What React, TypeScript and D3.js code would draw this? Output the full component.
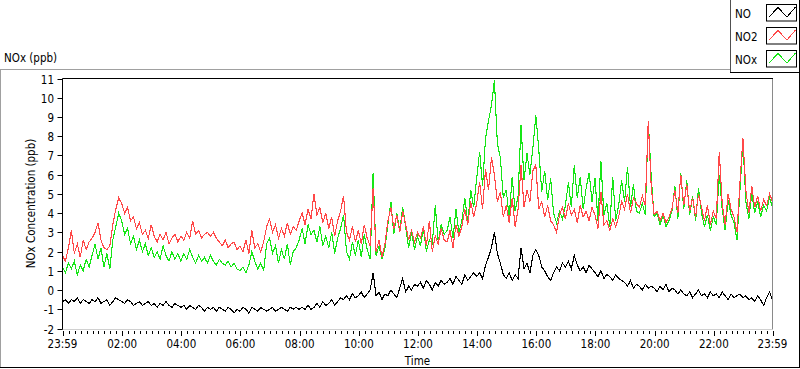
import * as d3 from "d3";

const W = 800;
const H = 369;
// plot box (pixel centres for crisp 1px lines)
const plot = { left: 62.5, top: 78.5, right: 772.5, bottom: 328.5 };

const FONT = "'DejaVu Sans Condensed', 'Liberation Sans', sans-serif";

// one sample every 6 minutes, from 23:59 to 23:59 next day
const startTime = new Date(2024, 0, 1, 23, 59);
const endTime = new Date(2024, 0, 2, 23, 59);
const stepMinutes = 6;

const seriesNames = ["NO", "NO2", "NOx"];
const seriesColors = ["#000000", "#ff4848", "#16e616"];

const no = [
  -0.6, -0.5, -0.7, -0.5, -0.6, -0.4, -0.7, -0.5, -0.6, -0.7,
  -0.5, -0.6, -0.4, -0.7, -0.6, -0.5, -0.8, -0.6, -0.4, -0.5,
  -0.6, -0.7, -0.5, -0.6, -0.8, -0.7, -0.6, -0.8, -0.7, -0.6,
  -0.8, -0.7, -0.9, -0.7, -0.8, -0.6, -0.8, -0.9, -0.7, -0.8,
  -0.9, -0.8, -1.0, -0.8, -0.9, -1.0, -0.8, -0.9, -1.1, -0.9,
  -1.0, -0.9, -1.1, -0.9, -1.0, -1.1, -0.9, -1.0, -1.2, -1.0,
  -1.1, -0.9, -1.0, -1.2, -0.9, -1.0, -1.1, -0.9, -1.0, -1.1,
  -1.0, -0.9, -1.1, -1.0, -0.9, -1.0, -1.1, -0.9, -1.0, -0.9,
  -1.0, -0.9, -1.0, -0.8, -1.0, -0.9, -0.7, -0.9, -0.6, -0.8,
  -0.7, -0.5, -0.8, -0.6, -0.4, -0.5, -0.3, -0.5, -0.2, -0.4,
  -0.3, -0.1, -0.4, -0.2, 0.0, 0.9, -0.3, -0.1, -0.5, -0.2,
  -0.3, 0.0, -0.2, -0.4, 0.1, 0.6, -0.1, 0.2, 0.0, 0.3,
  0.2, 0.4, 0.1, 0.5, 0.3, 0.0, 0.4, 0.2, 0.5, 0.3,
  0.4, 0.6, 0.3, 0.7, 0.5, 0.3, 0.8, 0.5, 0.7, 0.9,
  0.7, 0.9, 0.6, 1.3, 1.7, 2.2, 3.0, 1.9, 1.4, 0.8,
  0.6, 0.9, 0.5, 0.8, 0.6, 2.2, 1.1, 1.4, 0.9, 1.8,
  2.1, 1.8, 1.2, 1.0, 0.7, 0.5, 0.9, 1.2, 1.0, 1.4,
  1.2, 1.5, 1.1, 1.8, 1.3, 1.0, 1.2, 0.9, 1.3, 1.1,
  0.9, 0.7, 1.0, 0.6, 0.8, 0.7, 0.5, 0.8, 0.6, 0.5,
  0.4, 0.2, 0.5, 0.1, 0.3, 0.2, 0.0, 0.3, 0.1, 0.2,
  0.1, -0.1, 0.2, 0.0, 0.3, -0.1, 0.1, 0.0, -0.2, 0.0,
  -0.2, -0.3, -0.1, -0.4, -0.2, 0.0, -0.3, -0.2, -0.4, -0.1,
  -0.3, -0.2, -0.4, -0.1, -0.3, -0.5, -0.2, -0.4, -0.3, -0.2,
  -0.4, -0.3, -0.5, -0.4, -0.6, -0.3, -0.5, -0.8, -0.4, -0.1,
  -0.5,
];

const no2 = [
  1.8, 1.5, 2.2, 3.1, 1.9, 2.4, 1.7, 2.6, 2.1, 2.5,
  2.7, 3.0, 3.5, 2.6, 2.2, 2.1, 2.3, 3.4, 4.2, 4.8,
  4.5, 4.0, 4.3, 3.6, 3.8, 3.2, 3.5, 2.9, 3.1, 2.7,
  3.4, 2.8, 2.5, 2.9, 2.6, 3.0, 2.4, 2.7, 2.9, 2.5,
  2.8, 2.6, 3.0, 2.7, 3.6, 2.9, 3.1, 2.7, 2.9, 3.0,
  2.8, 3.0, 2.7, 2.5, 2.3, 2.6, 2.2, 2.4, 2.5, 2.1,
  2.3, 2.0, 2.6, 1.9, 3.1, 2.2, 2.4, 2.0, 2.5, 3.3,
  3.7, 3.0, 3.4, 2.7, 3.2, 2.8, 3.5, 2.9, 3.3, 3.1,
  3.6, 4.0, 3.4, 4.2, 3.7, 5.0, 3.9, 4.3, 3.5, 4.0,
  3.2, 3.8, 2.8, 3.6, 4.1, 4.9, 3.0, 2.6, 3.3, 2.5,
  3.1, 2.4, 3.4, 2.7, 2.3, 5.3, 2.0, 2.6, 1.7, 2.4,
  3.6, 4.3, 3.2, 3.9, 3.0, 4.1, 3.4, 2.6, 3.1, 2.5,
  3.0, 2.7, 3.3, 2.3, 3.6, 2.0, 2.8, 2.4, 3.2, 2.6,
  2.5, 3.1, 2.2, 3.4, 2.8, 3.3, 4.2, 3.4, 4.6, 3.8,
  4.5, 5.6, 4.2, 6.3, 5.2, 6.9, 6.0, 4.6, 5.1, 3.8,
  4.4, 3.5, 4.8, 3.3, 4.2, 6.5, 4.3, 5.2, 4.6, 6.2,
  6.5, 4.2, 4.6, 3.8, 4.4, 3.6, 3.4, 3.0, 3.9, 4.3,
  3.7, 4.5, 3.9, 4.2, 3.5, 4.4, 3.8, 4.1, 3.6, 4.3,
  3.9, 3.2, 5.1, 3.4, 3.6, 3.1, 3.7, 3.3, 3.8, 4.6,
  4.2, 5.0, 4.0, 4.8, 4.5, 4.3, 4.9, 4.4, 8.8, 5.4,
  3.9, 4.1, 3.6, 4.0, 3.5, 3.8, 4.2, 5.2, 4.0, 6.0,
  4.4, 5.5, 4.1, 4.8, 3.8, 5.0, 4.3, 3.6, 4.4, 3.4,
  4.1, 3.7, 7.2, 4.5, 3.4, 5.0, 4.2, 3.8, 3.0, 5.6,
  7.9, 5.2, 4.0, 5.4, 4.3, 4.9, 4.1, 4.7, 4.4, 5.0,
  4.6,
];

const nox = [
  1.2, 0.9, 1.4, 1.1, 1.5, 0.8, 1.3, 1.0, 1.6, 1.2,
  1.8, 2.4, 1.6, 2.2, 1.2, 1.9, 1.1, 2.6, 3.3, 4.0,
  3.6, 2.9, 3.2, 2.4, 2.8, 2.1, 2.6, 2.0, 2.4, 1.8,
  2.2, 1.7, 2.0, 1.6, 2.3, 1.8, 1.5, 2.0, 1.6, 1.9,
  1.5, 1.9, 1.6, 2.1, 1.7, 1.4, 1.8, 1.5, 1.7, 1.4,
  1.8, 1.5, 1.3, 1.6, 1.4, 1.3, 1.5, 1.2, 1.4, 1.1,
  1.0, 1.2, 0.9, 1.3, 2.0, 1.5, 1.1, 1.4, 1.0, 2.4,
  2.7, 1.9, 2.3, 1.4, 2.1, 1.6, 2.4, 1.3, 2.0, 2.2,
  2.6, 3.2, 2.4, 3.4, 2.9, 3.1, 2.5, 3.3, 2.3, 2.8,
  2.2, 3.0, 1.9, 2.7, 3.2, 3.9, 2.0, 1.6, 2.5, 1.8,
  2.6, 1.7, 2.9, 2.1, 1.6, 6.1, 1.8, 2.3, 1.6, 2.2,
  3.4, 4.6, 2.9, 4.0, 3.1, 4.3, 3.3, 2.2, 3.0, 2.1,
  2.8, 2.3, 3.2, 2.0, 2.6, 2.4, 4.4, 2.5, 3.4, 2.9,
  3.1, 3.8, 2.7, 4.2, 3.0, 3.6, 4.8, 3.5, 5.2, 4.3,
  5.8, 7.2, 5.4, 7.9, 8.8, 9.6, 10.9, 7.6, 6.9, 4.8,
  5.2, 3.8, 5.9, 4.1, 4.9, 8.6, 5.7, 7.1, 6.0, 7.4,
  9.1, 7.3, 5.1, 6.2, 4.7, 5.8, 4.0, 3.5, 4.1, 3.7,
  4.4, 5.6, 4.3, 6.5, 4.8, 5.9, 4.2, 5.3, 6.1, 4.6,
  5.8, 3.6, 6.7, 3.9, 4.5, 3.3, 5.9, 3.6, 4.4, 5.7,
  4.6, 6.4, 4.3, 5.5, 4.1, 4.0, 4.5, 3.9, 8.8, 5.9,
  3.8, 4.0, 3.4, 3.9, 3.3, 3.6, 4.1, 5.4, 3.7, 6.1,
  4.2, 5.7, 3.9, 4.9, 3.6, 5.3, 4.0, 3.3, 3.9, 3.1,
  3.8, 3.4, 6.0, 4.2, 3.1, 4.7, 3.9, 3.5, 2.6, 5.2,
  7.7, 4.6, 3.7, 5.0, 4.0, 4.6, 3.8, 4.4, 4.1, 4.8,
  4.3,
];

const yTicks = [-2, -1, 0, 1, 2, 3, 4, 5, 6, 7, 8, 9, 10, 11];
const xTickLabels = ["23:59", "02:00", "04:00", "06:00", "08:00", "10:00", "12:00", "14:00", "16:00", "18:00", "20:00", "22:00", "23:59"];

const x = d3.scaleTime().domain([startTime, endTime]).range([plot.left, plot.right]);
const y = d3.scaleLinear().domain([-2, 11]).range([plot.bottom, plot.top]);

const timeAt = (i: number) => d3.timeMinute.offset(startTime, i * stepMinutes);

// major ticks: both ends plus every even hour not too close to the ends
const evenHours = d3.timeHour.every(2)!.range(startTime, endTime)
  .filter((d) => +d - +startTime > 30 * 60000 && +endTime - +d > 30 * 60000);
const majorTicks = [startTime, ...evenHours, endTime];
const minorTicks = d3.timeMinute.every(12)!.range(startTime, endTime)
  .filter((d) => majorTicks.every((m) => Math.abs(x(d) - x(m)) > 3));

function Series({ values, color }: { values: number[]; color: string }) {
  const line = d3.line<number>().x((_, i) => x(timeAt(i))).y((v) => y(v));
  return <path d={line(values) || ""} fill="none" stroke={color} strokeWidth={1.1} shapeRendering="crispEdges" />;
}

function Legend() {
  const zig = d3.line<[number, number]>();
  return (
    <g>
      <rect x={730.5} y={-1} width={69} height={73.5} fill="#fff" stroke="none" />
      <line x1={730.5} y1={0} x2={730.5} y2={72.5} stroke="#505050" />
      <line x1={730} y1={72.5} x2={800} y2={72.5} stroke="#000" />
      <line x1={799.5} y1={0} x2={799.5} y2={72.5} stroke="#000" />
      {seriesNames.map((name, i) => {
        const top = 4.5 + i * 23;
        const pts: [number, number][] = [
          [768.5, top + 13], [778, top + 3], [787, top + 12.5], [795.5, top + 2.5],
        ];
        return (
          <g key={name}>
            <text x={735} y={18 + i * 23} fontSize={11.5} fontFamily={FONT} fill="#000">{name}</text>
            <rect x={766.5} y={top} width={30} height={16.5} fill="#fff" stroke="#000" />
            <path d={zig(pts) || ""} fill="none" stroke={seriesColors[i]} shapeRendering="crispEdges" />
          </g>
        );
      })}
    </g>
  );
}

export default function App() {
  const cx = (plot.left + plot.right) / 2;
  const cy = (plot.top + plot.bottom) / 2;
  return (
    <svg width={W} height={H} viewBox={`0 0 ${W} ${H}`}
      style={{ position: "fixed", left: 0, top: 0, background: "#fff" }}>
      {/* outer frame */}
      <line x1={0} y1={69.5} x2={731} y2={69.5} stroke="#a0a0a0" />
      <line x1={0.5} y1={69.5} x2={0.5} y2={368} stroke="#a0a0a0" />
      <line x1={0} y1={367.5} x2={800} y2={367.5} stroke="#000" />
      <line x1={799.5} y1={72} x2={799.5} y2={368} stroke="#000" />

      <text x={4} y={62} fontSize={11.5} fontFamily={FONT} fill="#000">NOx (ppb)</text>

      <Legend />

      <defs>
        <clipPath id="plotClip">
          <rect x={plot.left} y={plot.top} width={plot.right - plot.left} height={plot.bottom - plot.top} />
        </clipPath>
      </defs>

      {/* plot area */}
      <rect x={plot.left} y={plot.top} width={plot.right - plot.left} height={plot.bottom - plot.top} fill="#fff" />
      <g clipPath="url(#plotClip)">
        <Series values={nox} color={seriesColors[2]} />
        <Series values={no2} color={seriesColors[1]} />
        <Series values={no} color={seriesColors[0]} />
      </g>
      <line x1={plot.right} y1={plot.top} x2={plot.right} y2={plot.bottom + 1} stroke="#8a8a8a" />
      <line x1={plot.left} y1={plot.bottom + 1} x2={plot.right} y2={plot.bottom + 1} stroke="#d0d0d0" />
      <line x1={plot.left} y1={plot.top} x2={plot.right + 0.5} y2={plot.top} stroke="#000" />
      <line x1={plot.left} y1={plot.top} x2={plot.left} y2={plot.bottom + 1} stroke="#000" />

      {/* y axis */}
      {yTicks.map((t) => (
        <g key={t}>
          <line x1={plot.left - 5} x2={plot.left} y1={Math.round(y(t)) + 0.5} y2={Math.round(y(t)) + 0.5} stroke="#000" />
          <text x={54} y={Math.round(y(t)) + 4.5} textAnchor="end" fontSize={11.5} fontFamily={FONT} fill="#000">{t}</text>
        </g>
      ))}
      <text transform={`translate(35,${cy}) rotate(-90)`} textAnchor="middle" fontSize={11.5} fontFamily={FONT} fill="#000">
        NOx Concentration (ppb)
      </text>

      {/* x axis */}
      {minorTicks.map((d, i) => (
        <line key={i} x1={Math.round(x(d)) + 0.5} x2={Math.round(x(d)) + 0.5} y1={331} y2={334} stroke="#000" />
      ))}
      {majorTicks.map((d, i) => (
        <g key={i}>
          <line x1={Math.round(x(d)) + 0.5} x2={Math.round(x(d)) + 0.5} y1={331} y2={336} stroke="#000" />
          <text x={x(d)} y={348} textAnchor="middle" fontSize={11.5} fontFamily={FONT} fill="#000">{xTickLabels[i]}</text>
        </g>
      ))}
      <text x={cx} y={365} textAnchor="middle" fontSize={11.5} fontFamily={FONT} fill="#000">Time</text>
    </svg>
  );
}
